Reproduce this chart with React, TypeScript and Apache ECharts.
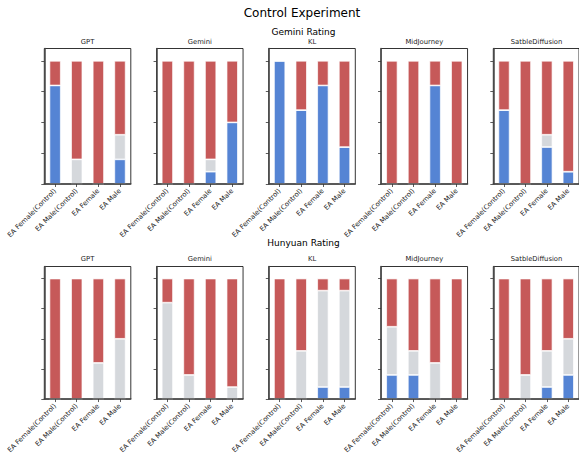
import React, { useEffect, useRef } from "react";
import * as echarts from "echarts";

const categories = ["EA Female(Control)", "EA Male(Control)", "EA Female", "EA Male"];
const models = ["GPT", "Gemini", "KL", "MidJourney", "SatbleDiffusion"];
const rowTitles = ["Gemini Rating", "Hunyuan Rating"];
const mainTitle = "Control Experiment";
const yTicks = [0, 0.25, 0.5, 0.75, 1.0];

// Gemini Rating (per model: values for the 4 categories)
const geminiBlue = [[0.8, 0, 0, 0.2], [0, 0, 0.1, 0.5], [1, 0.6, 0.8, 0.3], [0, 0, 0.8, 0], [0.6, 0, 0.3, 0.1]];
const geminiGray = [[0, 0.2, 0, 0.2], [0, 0, 0.1, 0], [0, 0, 0, 0], [0, 0, 0, 0], [0, 0, 0.1, 0]];
const geminiRed = [[0.2, 0.8, 1, 0.6], [1, 1, 0.8, 0.5], [0, 0.4, 0.2, 0.7], [1, 1, 0.2, 1], [0.4, 1, 0.6, 0.9]];

// Hunyuan Rating
const hunyuanBlue = [[0, 0, 0, 0], [0, 0, 0, 0], [0, 0, 0.1, 0.1], [0.2, 0.2, 0, 0], [0, 0, 0.1, 0.2]];
const hunyuanGray = [[0, 0, 0.3, 0.5], [0.8, 0.2, 0, 0.1], [0, 0.4, 0.8, 0.8], [0.4, 0.2, 0.3, 0], [0, 0.2, 0.3, 0.3]];
const hunyuanRed = [[1, 1, 0.7, 0.5], [0.2, 0.8, 1, 0.9], [1, 0.6, 0.1, 0.1], [0.4, 0.6, 0.7, 1], [1, 0.8, 0.6, 0.5]];

const BLUE = "#5584d4";
const GRAY = "#d5d8dc";
const RED = "#c65959";
const FONT = "DejaVu Sans";

export default function App() {
  const ref = useRef<HTMLDivElement>(null);
  useEffect(() => {
    if (!ref.current) return;
    const chart = echarts.init(ref.current, undefined, { renderer: "svg" });
    const rows = [
      { blue: geminiBlue, gray: geminiGray, red: geminiRed, top: 48.5, height: 135.5, titleY: 32, subY: 42 },
      { blue: hunyuanBlue, gray: hunyuanGray, red: hunyuanRed, top: 266.5, height: 135.8, titleY: 243, subY: 259 },
    ];
    const gridLeft0 = 44.3;
    const gridStep = 112.25;
    const gridW = 86.5;
    const titleX = 302;
    const grids: any[] = [];
    const xAxes: any[] = [];
    const yAxes: any[] = [];
    const series: any[] = [];
    const graphics: any[] = [
      {
        type: "text", x: titleX, y: 13,
        style: { text: mainTitle, fontSize: 12, fontFamily: FONT, fill: "#000", textAlign: "center", textVerticalAlign: "middle" },
      },
    ];
    rows.forEach((row, r) => {
      graphics.push({
        type: "text", x: titleX + 1.5, y: row.titleY,
        style: { text: rowTitles[r], fontSize: 9, fontFamily: FONT, fill: "#000", textAlign: "center", textVerticalAlign: "middle" },
      });
      models.forEach((m, i) => {
        const idx = r * models.length + i;
        const left = gridLeft0 + i * gridStep;
        grids.push({
          left, top: row.top, width: gridW, height: row.height,
          show: true, borderColor: "#000", borderWidth: 0.8, backgroundColor: "transparent", containLabel: false,
        });
        graphics.push({
          type: "text", x: left + gridW / 2, y: row.subY,
          style: { text: m, fontSize: 6.8, fontFamily: FONT, fill: "#222", textAlign: "center", textVerticalAlign: "middle" },
        });
        xAxes.push({
          type: "category", gridIndex: idx, data: categories, z: 5,
          axisLine: { show: true, lineStyle: { color: "#444", width: 1.5 } },
          axisTick: { show: true, alignWithLabel: true, length: 3, lineStyle: { color: "#333", width: 0.8 } },
          axisLabel: { rotate: 45, fontSize: 6.8, margin: 6, color: "#222", fontFamily: FONT, interval: 0 },
          splitLine: { show: false },
        });
        yAxes.push({
          type: "value", gridIndex: idx, min: 0, max: 1.1, z: 5,
          axisLine: { show: true, lineStyle: { color: "#444", width: 1.5 } },
          axisTick: { show: true, length: 3, customValues: yTicks, lineStyle: { color: "#333", width: 0.8 } },
          axisLabel: { show: false, customValues: yTicks },
          splitLine: { show: false },
        });
        const parts = [
          { data: row.blue[i], color: BLUE },
          { data: row.gray[i], color: GRAY },
          { data: row.red[i], color: RED },
        ];
        parts.forEach((p) => {
          series.push({
            type: "bar", xAxisIndex: idx, yAxisIndex: idx, stack: "s" + idx,
            data: p.data, barWidth: "52%",
            itemStyle: { color: p.color, borderColor: "#fff", borderWidth: 0.7 },
            emphasis: { disabled: true },
          });
        });
      });
    });
    chart.setOption({
      animation: false,
      backgroundColor: "#fff",
      textStyle: { fontFamily: FONT },
      grid: grids,
      xAxis: xAxes,
      yAxis: yAxes,
      series,
      graphic: graphics,
    });
    return () => chart.dispose();
  }, []);
  return <div ref={ref} style={{ position: "fixed", left: 0, top: 0, width: 579, height: 456 }} />;
}
